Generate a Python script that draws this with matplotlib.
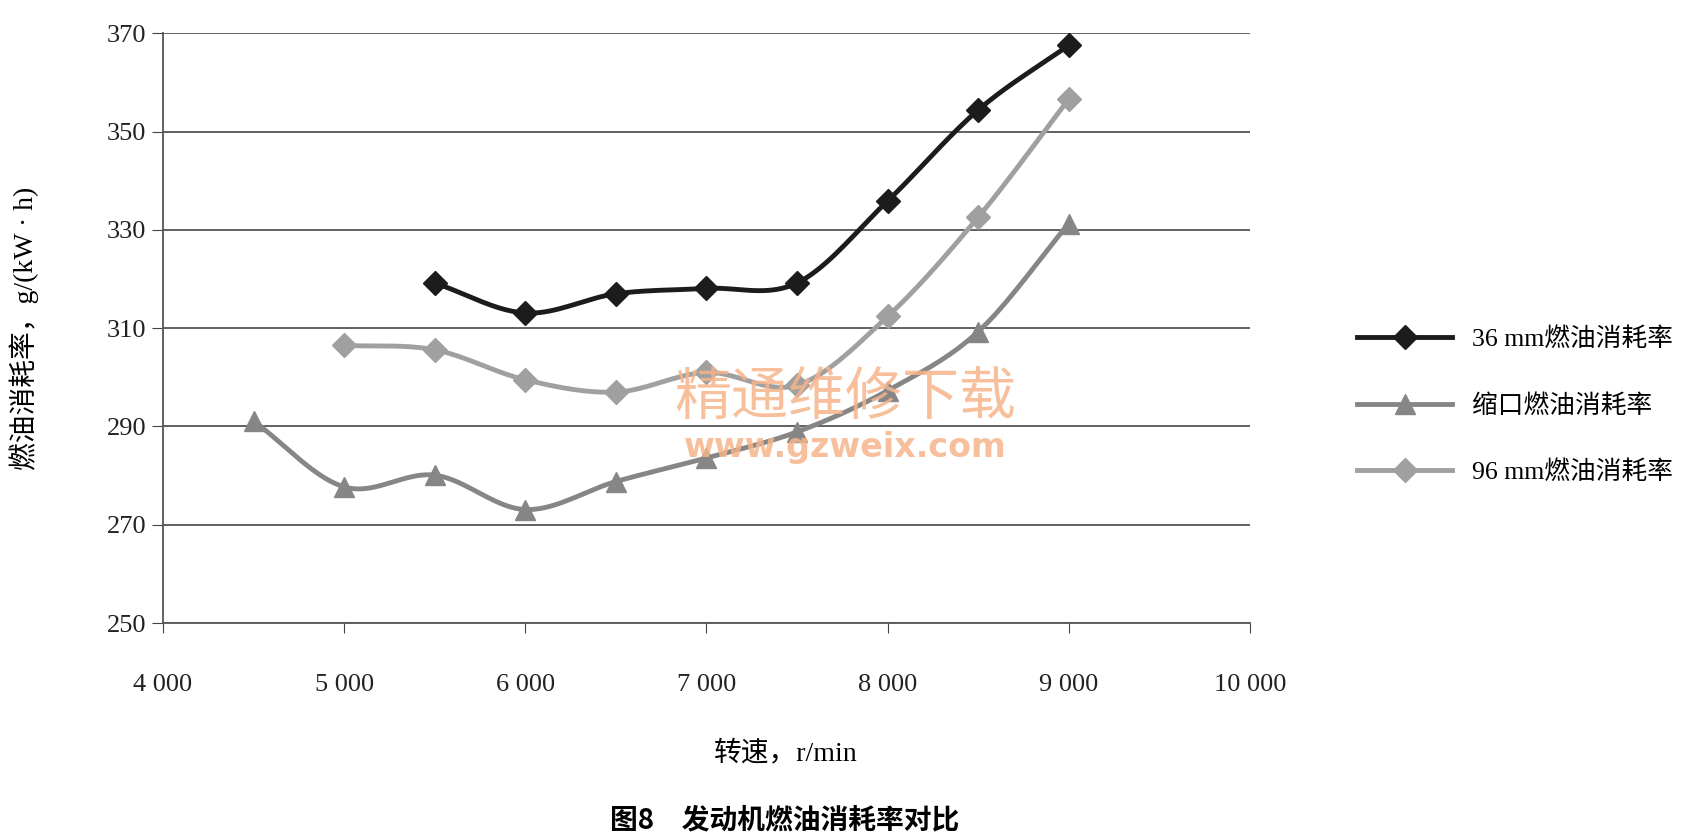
import numpy as np
import matplotlib.pyplot as plt

plt.rcParams["font.family"] = ["Liberation Serif", "Noto Sans CJK SC"]

# data
speed_36 = [5500, 6000, 6500, 7000, 7500, 8000, 8500, 9000]
fuel_36 = [319.2, 313.1, 317.0, 318.1, 319.2, 335.9, 354.4, 367.6]

speed_suokou = [4500, 5000, 5500, 6000, 6500, 7000, 7500, 8000, 8500, 9000]
fuel_suokou = [291.1, 277.7, 280.1, 273.1, 278.8, 283.6, 288.9, 297.3, 309.3, 331.3]

speed_96 = [5000, 5500, 6000, 6500, 7000, 7500, 8000, 8500, 9000]
fuel_96 = [306.5, 305.6, 299.5, 297.0, 301.0, 298.4, 312.4, 332.6, 356.6]

labels = ["36 mm燃油消耗率", "缩口燃油消耗率", "96 mm燃油消耗率"]
colors = ["#1c1c1c", "#868686", "#a0a0a0"]
markers = ["D", "^", "D"]


def smooth(x, y, n=20):
    # Excel-like smoothed line (Catmull-Rom through the points)
    x = np.asarray(x, float)
    y = np.asarray(y, float)
    px = np.concatenate([[2 * x[0] - x[1]], x, [2 * x[-1] - x[-2]]])
    py = np.concatenate([[2 * y[0] - y[1]], y, [2 * y[-1] - y[-2]]])
    t = np.linspace(0, 1, n)
    xs, ys = [], []
    for i in range(1, len(px) - 2):
        for p, out in ((px, xs), (py, ys)):
            p0, p1, p2, p3 = p[i - 1], p[i], p[i + 1], p[i + 2]
            out.append(0.5 * (2 * p1 + (-p0 + p2) * t
                              + (2 * p0 - 5 * p1 + 4 * p2 - p3) * t ** 2
                              + (-p0 + 3 * p1 - 3 * p2 + p3) * t ** 3))
    return np.concatenate(xs), np.concatenate(ys)


fig = plt.figure(figsize=(16.93, 8.33), dpi=100)
ax = fig.add_axes([0.0963, 0.252, 0.642, 0.708])

series = [(speed_36, fuel_36), (speed_suokou, fuel_suokou), (speed_96, fuel_96)]
for k in [1, 2, 0]:
    xs, ys = smooth(*series[k])
    ax.plot(xs, ys, color=colors[k], lw=3.5, zorder=3 + k)
    ax.plot(series[k][0], series[k][1], ls="none", marker=markers[k],
            ms=14 if markers[k] == "^" else 12, color=colors[k], zorder=3 + k)

handles = [plt.Line2D([], [], color=colors[k], lw=3.5, marker=markers[k],
                      ms=14 if markers[k] == "^" else 12) for k in range(3)]

ax.set_xlim(4000, 10000)
ax.set_ylim(250, 370)
ax.set_xticks(range(4000, 10001, 1000))
ax.set_xticklabels([f"{v // 1000} 000" for v in range(4000, 10001, 1000)])
ax.set_yticks(range(250, 371, 20))
ax.tick_params(axis="both", labelsize=19, colors="#444444", labelcolor="#222222")
ax.tick_params(axis="x", length=7, pad=30)
ax.tick_params(axis="y", length=8, pad=4)
ax.yaxis.grid(True, color="#555555", lw=1.3)
ax.set_axisbelow(True)
for s in ["top", "right"]:
    ax.spines[s].set_visible(False)
for s in ["left", "bottom"]:
    ax.spines[s].set_color("#555555")
    ax.spines[s].set_linewidth(1.3)

ax.set_xlabel("转速，r/min", fontsize=20, va="center")
ax.xaxis.set_label_coords(0.573, -0.222)
ax.set_ylabel("燃油消耗率，g/(kW · h)", fontsize=20, va="center")
ax.yaxis.set_label_coords(-0.128, 0.5)

fig.legend(handles, labels, loc="center left", bbox_to_anchor=(0.788, 0.513),
           frameon=False, fontsize=18.5, handlelength=3.7, labelspacing=1.68,
           handletextpad=0.75)

fig.text(0.4637, 0.0155, "图8　发动机燃油消耗率对比", ha="center", va="center",
         fontsize=20, fontweight="bold", family="Noto Sans CJK SC")

# site watermark
fig.text(0.499, 0.488, "精通维修下载", ha="center", va="bottom", fontsize=41,
         color="#f6b48a", alpha=0.85, family="Noto Sans CJK SC", zorder=10)
fig.text(0.499, 0.482, "www.gzweix.com", ha="center", va="top", fontsize=24,
         fontweight="bold", color="#f6b48a", alpha=0.85, family="DejaVu Sans",
         zorder=10)

fig.savefig("out.png", dpi=100)
